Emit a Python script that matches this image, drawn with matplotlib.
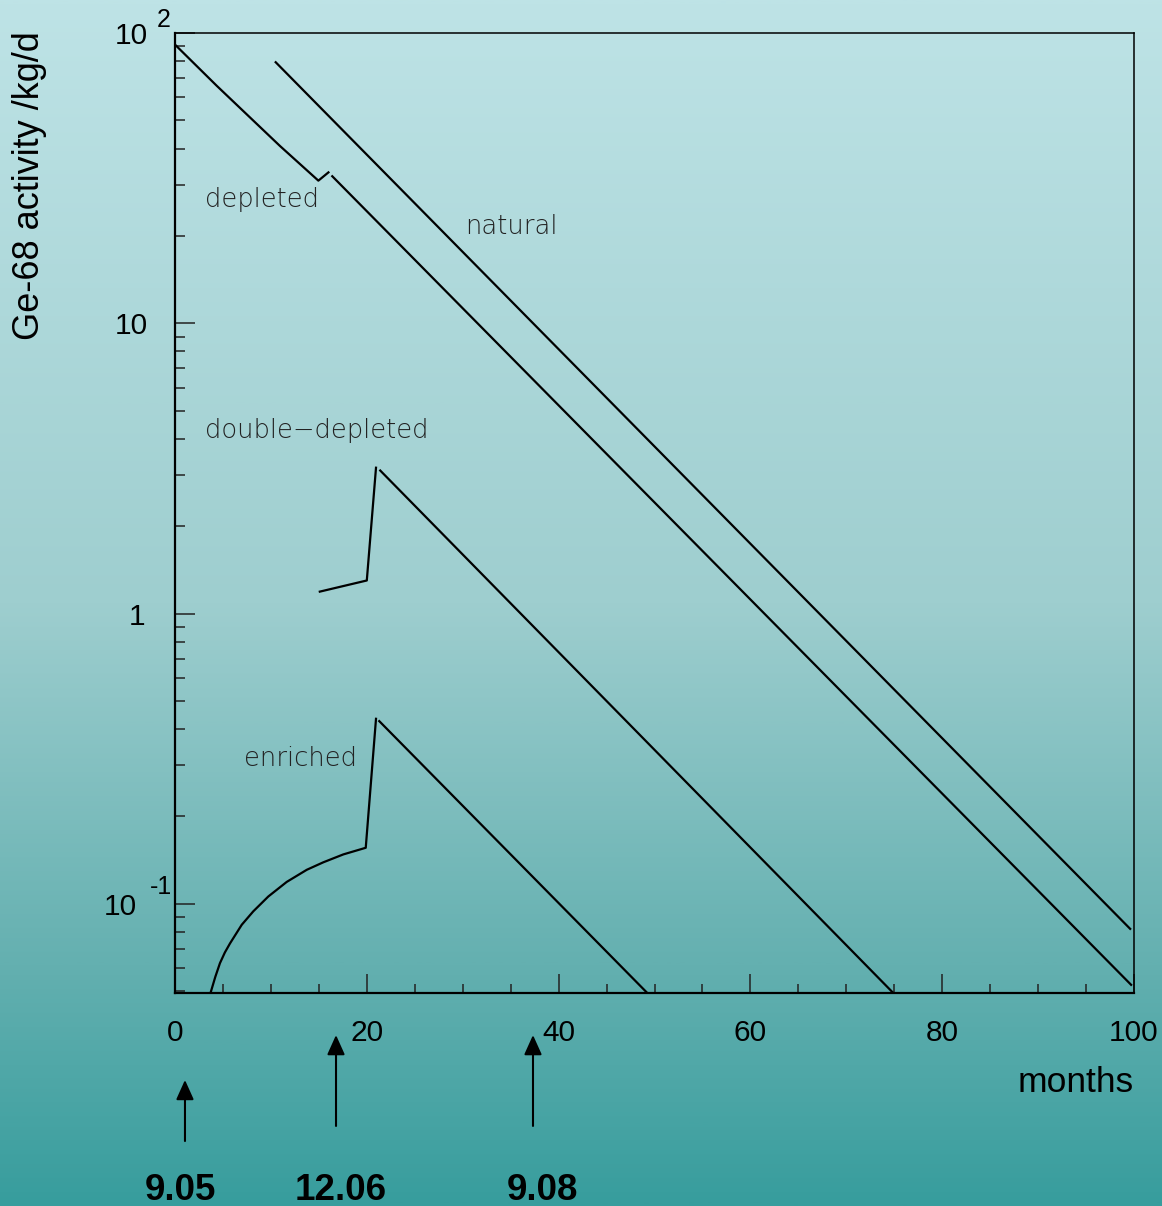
import numpy as np
import matplotlib.pyplot as plt
from matplotlib.colors import LinearSegmentedColormap
from matplotlib.ticker import MultipleLocator, LogLocator, NullFormatter

plt.rcParams['font.family'] = ['Liberation Sans', 'DejaVu Sans']

# data (months, activity per kg per day)
nat_t = [10.5, 99.6]
nat_a = [79.3, 0.082]

dep1_t = [0.0, 4.35, 10.95, 14.95, 16.0]
dep1_a = [91.2, 65.8, 40.8, 31.0, 33.1]
dep2_t = [16.4, 99.7]
dep2_a = [32.1, 0.0526]

dd1_t = [15.1, 20.0, 20.96]
dd1_a = [1.19, 1.30, 3.18]
dd2_t = [21.4, 74.9]
dd2_a = [3.11, 0.0493]

enr1_t = [3.75, 4.2, 4.69, 5.2, 5.74, 6.96, 8.16, 9.73, 11.65, 13.74, 15.46, 17.55, 19.89, 20.96]
enr1_a = [0.0499, 0.0560, 0.0625, 0.0680, 0.0731, 0.0847, 0.0942, 0.106, 0.119, 0.131, 0.139, 0.148, 0.156, 0.434]
enr2_t = [21.3, 49.25]
enr2_a = [0.426, 0.0493]

curve_names = ['depleted', 'natural', 'double\u2212depleted', 'enriched']
name_t = [3.13, 30.24, 3.13, 7.2]
name_a = [25.1, 20.3, 4.01, 0.299]

ytick_vals = [0.1, 1, 10, 100]
ytick_base = ['10', '1', '10', '10']
ytick_exp = ['-1', '', '', '2']

arrow_t = [1.04, 16.79, 37.33]
arrow_labels = ['9.05', '12.06', '9.08']
arrow_label_t = [0.52, 17.3, 38.3]

# 1. figure + gradient background
fig = plt.figure(figsize=(11.62, 12.06), dpi=100)
bg = fig.add_axes([0, 0, 1, 1], zorder=-10)
cmap = LinearSegmentedColormap.from_list('bg', [
    (0.0, (190/255, 227/255, 230/255)),
    (0.5, (158/255, 206/255, 207/255)),
    (0.8, (100/255, 176/255, 176/255)),
    (1.0, (55/255, 157/255, 157/255))])
bg.imshow(np.linspace(0, 1, 512).reshape(-1, 1), aspect='auto', cmap=cmap,
          extent=[0, 1, 0, 1])
bg.axis('off')

ax = fig.add_axes([175/1162, 1 - 993/1206, 959/1162, 960/1206])
ax.set_facecolor('none')
ax.set_yscale('log')
ax.set_xlim(0, 100)
ax.set_ylim(0.0493, 100)

# 2. curves
for t, a in [(nat_t, nat_a), (dep1_t, dep1_a), (dep2_t, dep2_a),
             (dd1_t, dd1_a), (dd2_t, dd2_a), (enr1_t, enr1_a), (enr2_t, enr2_a)]:
    ax.plot(t, a, color='black', lw=1.6, solid_joinstyle='round')

for name, t, a in zip(curve_names, name_t, name_a):
    ax.text(t, a, name, ha='left', va='baseline', fontsize=18.6,
            family=['DejaVu Sans'], fontweight='light', color='#222222')

# 3. axes look
for side in ['left', 'bottom']:
    ax.spines[side].set_linewidth(1.6)
for side in ['top', 'right']:
    ax.spines[side].set_linewidth(1.1)

ax.xaxis.set_major_locator(MultipleLocator(20))
ax.xaxis.set_minor_locator(MultipleLocator(5))
ax.tick_params(axis='x', which='major', direction='in', length=13.7, width=1.1,
               color='#222222', labelsize=21.5, pad=19, top=False)
ax.tick_params(axis='x', which='minor', direction='in', length=6.7, width=1.1,
               color='#222222', top=False)

ax.set_yticks(ytick_vals)
ax.yaxis.set_minor_locator(LogLocator(base=10, subs=np.arange(2, 10)))
ax.yaxis.set_minor_formatter(NullFormatter())
ax.set_yticklabels([''] * len(ytick_vals))
ax.tick_params(axis='y', which='major', direction='in', length=14.4, width=1.1,
               color='#222222', right=False)
ax.tick_params(axis='y', which='minor', direction='in', length=7.2, width=1.1,
               color='#222222', right=False)

base_off = [-27.4, -21.6, -19.4, -19.4]
exp_off = [(-18, 14), None, None, (-13, 11.5)]
for v, b, e, bo, eo in zip(ytick_vals, ytick_base, ytick_exp, base_off, exp_off):
    ax.annotate(b, xy=(0, v), xycoords=('axes fraction', 'data'),
                xytext=(bo, 0), textcoords='offset points',
                ha='right', va='center_baseline', fontsize=21.5, annotation_clip=False)
    if e:
        ax.annotate(e, xy=(0, v), xycoords=('axes fraction', 'data'),
                    xytext=eo, textcoords='offset points',
                    ha='left', va='center_baseline', fontsize=18, annotation_clip=False)

fig.text(30/1162, 1 - 186/1206, 'Ge-68 activity /kg/d', rotation=90,
         ha='center', va='center', fontsize=26)
fig.text(1134/1162, 1 - 1092/1206, 'months', ha='right', va='baseline', fontsize=25.5)

# 4. date arrows under the axis
tips = [-0.0906, -0.0438, -0.0438]
tails = [-0.1542, -0.1385, -0.1385]
for t, tip, tail in zip(arrow_t, tips, tails):
    ax.annotate('', xy=(t, tip), xytext=(t, tail),
                xycoords=('data', 'axes fraction'), annotation_clip=False,
                arrowprops=dict(arrowstyle='-|>,head_length=0.6,head_width=0.27',
                                mutation_scale=20, color='black', lw=1.5,
                                shrinkA=0, shrinkB=0))
for t, lab in zip(arrow_label_t, arrow_labels):
    ax.annotate(lab, xy=(t, -0.2156), xycoords=('data', 'axes fraction'),
                ha='center', va='baseline', fontsize=26.5, fontweight='bold',
                annotation_clip=False)

fig.savefig('out.png', dpi=100)
